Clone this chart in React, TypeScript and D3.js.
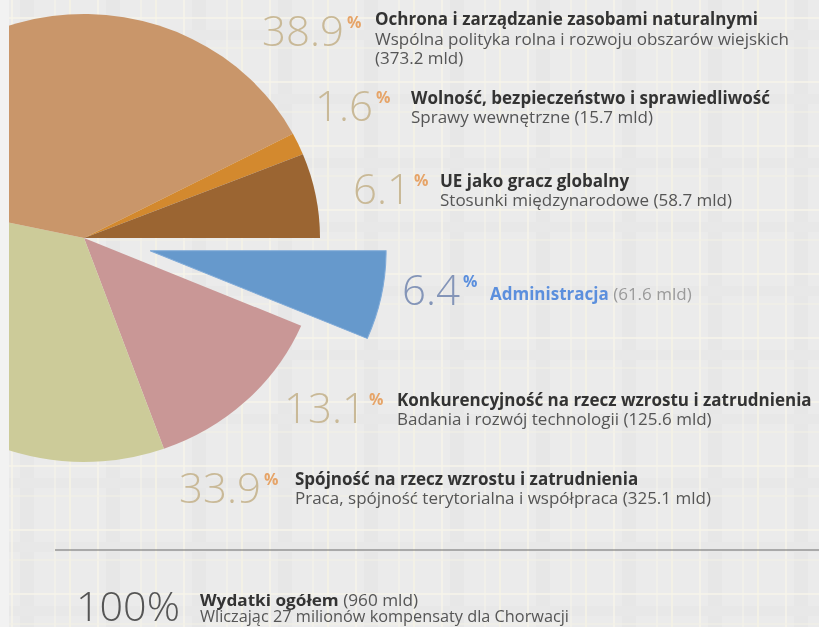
import React from "react";
import * as d3 from "d3";

// ---- data ----
const categories = [
  "Ochrona i zarządzanie zasobami naturalnymi",
  "Wolność, bezpieczeństwo i sprawiedliwość",
  "UE jako gracz globalny",
  "Administracja",
  "Konkurencyjność na rzecz wzrostu i zatrudnienia",
  "Spójność na rzecz wzrostu i zatrudnienia",
];
const shares = [38.9, 1.6, 6.1, 6.4, 13.1, 33.9];
const amounts = [373.2, 15.7, 58.7, 61.6, 125.6, 325.1];
const subtitles = [
  "Wspólna polityka rolna i rozwoju obszarów wiejskich",
  "Sprawy wewnętrzne",
  "Stosunki międzynarodowe",
  "",
  "Badania i rozwój technologii",
  "Praca, spójność terytorialna i współpraca",
];
const totalShare = "100%";
const totalTitle = "Wydatki ogółem";
const totalAmount = 960;
const totalNote = "Wliczając 27 milionów kompensaty dla Chorwacji";

// ---- styles / layout ----
const sliceColors = ["#C9966A", "#D3892E", "#9B6532", "#6699CC", "#C99796", "#CCCB99"];
const pieOrder = [3, 4, 5, 0, 1, 2]; // clockwise from 3 o'clock
const explodedIndex = 3;
const W = 819;
const H = 627;
const cx = 84;
const cy = 238;
const R = 224;
const xStretch = 236 / 224;
const explode = 64;

// label anchor positions: right edge of the number, number baseline, text x, first text baseline
const labelLayout = [
  { numRight: 344, numBase: 46, textX: 375, textY: 25 },
  { numRight: 373, numBase: 121, textX: 411, textY: 104 },
  { numRight: 411, numBase: 204, textX: 440, textY: 187 },
  { numRight: 460, numBase: 305, textX: 490, textY: 300 },
  { numRight: 366, numBase: 423, textX: 397, textY: 406 },
  { numRight: 261, numBase: 503, textX: 295, textY: 485 },
];

const FONT = "'Open Sans', 'DejaVu Sans', sans-serif";
const TXT = 17;

export default function App() {
  const pie = d3
    .pie<number>()
    .sort(null)
    .value((i) => shares[i])
    .startAngle(Math.PI / 2)
    .endAngle(Math.PI / 2 + 2 * Math.PI);
  const arcs = pie(pieOrder);
  const arc = d3.arc<d3.PieArcDatum<number>>().innerRadius(0).outerRadius(R);

  const fmt = d3.format(".1f");

  return (
    <div style={{ position: "fixed", left: 0, top: 0, width: W, height: H }}>
      <svg width={W} height={H} style={{ display: "block" }} fontFamily={FONT}>
        <defs>
          <pattern id="plaid" width="86" height="64" patternUnits="userSpaceOnUse">
            <rect width="86" height="64" fill="#EBEBEB" />
            <rect x="20" y="0" width="14" height="64" fill="#E7E7E7" />
            <rect x="0" y="30" width="86" height="10" fill="#E8E8E8" />
            <line x1="12" y1="0" x2="12" y2="64" stroke="#F7F5EA" strokeWidth="1.5" />
            <line x1="55" y1="0" x2="55" y2="64" stroke="#F7F5EA" strokeWidth="1" />
            <line x1="70" y1="0" x2="70" y2="64" stroke="#F3F1E6" strokeWidth="2" />
            <line x1="0" y1="18" x2="86" y2="18" stroke="#F7F5EA" strokeWidth="1.5" />
            <line x1="0" y1="48" x2="86" y2="48" stroke="#F3F1E6" strokeWidth="1" />
          </pattern>
        </defs>
        <rect width={W} height={H} fill="url(#plaid)" />

        <g transform={`translate(${cx},${cy}) scale(${xStretch},1)`}>
          {arcs.map((a) => {
            const i = a.data;
            let tx = 0;
            let ty = 0;
            if (i === explodedIndex) {
              const mid = (a.startAngle + a.endAngle) / 2;
              tx = Math.sin(mid) * explode;
              ty = -Math.cos(mid) * explode;
            }
            return (
              <path
                key={i}
                d={arc(a) || ""}
                transform={`translate(${tx},${ty})`}
                fill={sliceColors[i]}
                stroke={i === explodedIndex ? "#7FAAD8" : "none"}
                strokeWidth={i === explodedIndex ? 1 : 0}
              />
            );
          })}
        </g>
        <rect x={0} y={0} width={9} height={H} fill="#F2F2F2" />

        {categories.map((c, i) => {
          const L = labelLayout[i];
          const isAdmin = i === explodedIndex;
          const numColor = isAdmin ? "#8495B8" : "#C9B997";
          const pctColor = isAdmin ? "#5B8FDD" : "#E6A468";
          return (
            <g key={c}>
              <text
                x={L.numRight}
                y={L.numBase}
                textAnchor="end"
                fontSize={42}
                fontWeight={300}
                fill={numColor}
              >
                {fmt(shares[i])}
              </text>
              <text x={L.numRight + 3} y={L.numBase - 18} fontSize={16} fontWeight={700} fill={pctColor}>
                %
              </text>
              {isAdmin ? (
                <text x={L.textX} y={L.textY} fontSize={TXT}>
                  <tspan fontWeight={700} fill="#5B8FDD">{c}</tspan>
                  <tspan fill="#9A9A9A">{` (${fmt(amounts[i])} mld)`}</tspan>
                </text>
              ) : i === 0 ? (
                <g>
                  <text x={L.textX} y={L.textY} fontSize={TXT} fontWeight={700} fill="#333">{c}</text>
                  <text x={L.textX} y={L.textY + 20} fontSize={TXT} fill="#555">{subtitles[i]}</text>
                  <text x={L.textX} y={L.textY + 39} fontSize={TXT} fill="#555">{`(${fmt(amounts[i])} mld)`}</text>
                </g>
              ) : (
                <g>
                  <text x={L.textX} y={L.textY} fontSize={TXT} fontWeight={700} fill="#333">{c}</text>
                  <text x={L.textX} y={L.textY + 19} fontSize={TXT} fill="#555">{`${subtitles[i]} (${fmt(amounts[i])} mld)`}</text>
                </g>
              )}
            </g>
          );
        })}

        <line x1={55} x2={W} y1={550} y2={550} stroke="#6A6A6A" strokeWidth={1.2} />

        <text x={76} y={621} fontSize={40} fontWeight={300} fill="#555" textLength={104} lengthAdjust="spacingAndGlyphs">{totalShare}</text>
        <text x={200} y={606} fontSize={15.5} textLength={218} lengthAdjust="spacingAndGlyphs">
          <tspan fontWeight={700} fill="#333">{totalTitle}</tspan>
          <tspan fill="#555">{` (${totalAmount} mld)`}</tspan>
        </text>
        <text x={200} y={622} fontSize={15.5} fill="#555" textLength={369} lengthAdjust="spacingAndGlyphs">{totalNote}</text>
      </svg>
    </div>
  );
}
